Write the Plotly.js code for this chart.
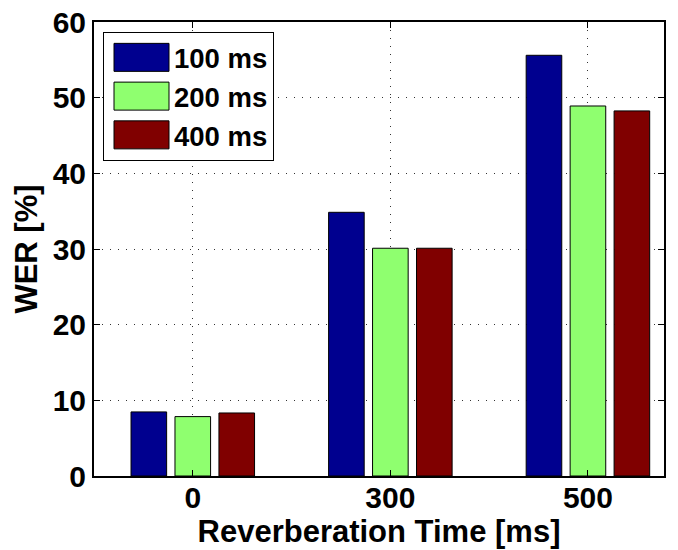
<!DOCTYPE html>
<html><head><meta charset="utf-8">
<script src="https://cdn.plot.ly/plotly-3.0.1.min.js"></script>
<style>body{margin:0;background:#fff}#chart{width:678px;height:550px}</style>
</head><body><div id="chart"></div>
<script>
const categories = ["0", "300", "500"];
const seriesNames = ["100 ms", "200 ms", "400 ms"];
const wer100 = [8.47, 34.85, 55.6];
const wer200 = [7.85, 30.1, 48.9];
const wer400 = [8.33, 30.1, 48.25];
const colors = ["#00008F", "#8FFF6F", "#800000"];
const yTicks = [0, 10, 20, 30, 40, 50, 60];

const xs = categories.map((c, i) => i);
const series = [wer100, wer200, wer400];
const traces = series.map((vals, k) => ({
  type: "bar", x: xs, y: vals, name: seriesNames[k],
  marker: {color: colors[k], line: {color: "#000", width: 1}}
}));
const fam = "Liberation Sans, Arial, sans-serif";
const tickFont = {family: fam, size: 30, color: "#000", weight: "bold"};
const titleFont = {family: fam, size: 31, color: "#000", weight: "bold"};
const legFont = {family: fam, size: 27.5, color: "#000", weight: "bold"};
const layout = {
  width: 678, height: 550,
  margin: {l: 94, r: 14, t: 22, b: 74},
  paper_bgcolor: "#fff", plot_bgcolor: "#fff",
  barmode: "group", bargap: 0.3325, bargroupgap: 0.19,
  font: tickFont,
  showlegend: true,
  legend: {x: 0.0158, y: 0.978, xanchor: "left", yanchor: "top",
    bgcolor: "#fff", bordercolor: "#000", borderwidth: 1,
    font: legFont, tracegroupgap: 0, itemwidth: 60},
  xaxis: {
    range: [-0.5, 2.385], tickvals: xs, ticktext: categories,
    showline: true, linecolor: "#000", linewidth: 2, mirror: "allticks",
    ticks: "inside", ticklen: 6, tickcolor: "#000",
    showgrid: true, gridcolor: "#333", griddash: "1px,7px", gridwidth: 1,
    zeroline: false, tickfont: tickFont, ticklabelstandoff: -6,
    title: {text: "Reverberation Time [ms]", font: titleFont, standoff: 0}
  },
  yaxis: {
    range: [0, 60], tickvals: yTicks,
    showline: true, linecolor: "#000", linewidth: 2, mirror: "allticks",
    ticks: "inside", ticklen: 6, tickcolor: "#000",
    showgrid: true, gridcolor: "#333", griddash: "1px,7px", gridwidth: 1,
    zeroline: false, tickfont: tickFont,
    title: {text: "WER [%]", font: titleFont, standoff: 6}
  }
};
Plotly.newPlot("chart", traces, layout, {displayModeBar: false, staticPlot: true}).then(gd => {
  gd.querySelectorAll(".legend .legendpoints path").forEach(p => {
    p.setAttribute("d", "M-25,-14H30V14H-25Z");
  });
});
</script>
</body></html>
